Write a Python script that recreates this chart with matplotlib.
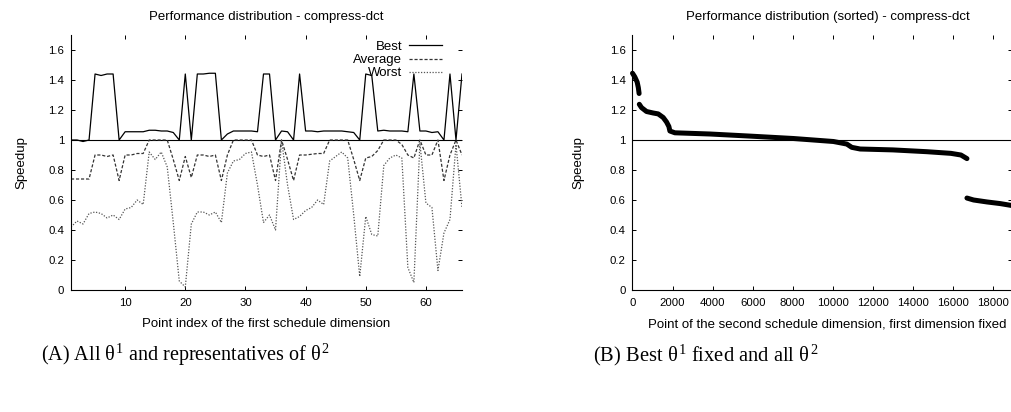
import matplotlib
matplotlib.use("Agg")
import matplotlib.pyplot as plt

plt.rcParams["font.family"] = ["Liberation Sans", "DejaVu Sans"]
plt.rcParams["mathtext.fontset"] = "custom"
plt.rcParams["mathtext.rm"] = "Liberation Serif"
plt.rcParams["mathtext.it"] = "Liberation Serif"

# -----------------------------
# Data
# -----------------------------
point_index = list(range(1, 67))

best = [1.0, 1.0, 0.99, 1.0, 1.44, 1.43, 1.44, 1.44, 1.0, 1.055,
        1.055, 1.055, 1.055, 1.065, 1.065, 1.06, 1.06, 1.05, 1.0, 1.44,
        1.0, 1.44, 1.44, 1.445, 1.445, 1.0, 1.04, 1.06, 1.06, 1.06,
        1.06, 1.055, 1.44, 1.44, 1.0, 1.06, 1.055, 1.0, 1.44, 1.06,
        1.06, 1.055, 1.06, 1.06, 1.06, 1.06, 1.055, 1.05, 1.0, 1.44,
        1.43, 1.06, 1.065, 1.06, 1.06, 1.06, 1.055, 1.44, 1.06, 1.06,
        1.05, 1.055, 1.0, 1.44, 1.0, 1.44]

average = [0.74, 0.74, 0.74, 0.74, 0.9, 0.9, 0.89, 0.9, 0.73, 0.9,
           0.9, 0.91, 0.91, 1.0, 1.0, 1.0, 1.0, 0.87, 0.73, 0.89,
           0.75, 0.9, 0.9, 0.89, 0.9, 0.73, 0.9, 1.0, 1.0, 1.0,
           1.0, 0.9, 0.89, 0.9, 0.73, 1.0, 0.87, 0.73, 0.9, 0.9,
           0.905, 0.91, 0.91, 1.0, 1.0, 1.0, 1.0, 0.87, 0.73, 0.88,
           0.89, 0.93, 1.0, 1.0, 1.0, 0.97, 0.9, 0.88, 1.0, 0.9,
           0.9, 1.0, 0.73, 0.9, 1.0, 0.9]

worst = [0.42, 0.46, 0.44, 0.51, 0.52, 0.51, 0.48, 0.5, 0.47, 0.54,
         0.55, 0.6, 0.57, 0.92, 0.87, 0.92, 0.82, 0.45, 0.06, 0.02,
         0.44, 0.52, 0.52, 0.5, 0.52, 0.45, 0.78, 0.86, 0.87, 0.91,
         0.92, 0.7, 0.45, 0.5, 0.4, 1.0, 0.7, 0.47, 0.49, 0.53,
         0.55, 0.6, 0.57, 0.86, 0.89, 0.92, 0.88, 0.5, 0.09, 0.49,
         0.37, 0.36, 0.83, 0.88, 0.9, 0.88, 0.15, 0.05, 0.98, 0.58,
         0.55, 0.13, 0.38, 0.47, 0.97, 0.55]

# sorted distribution, three pieces separated by jumps
sorted_x1 = [0, 117, 233, 290, 330]
sorted_y1 = [1.445, 1.42, 1.386, 1.35, 1.31]
sorted_x2 = [340, 450, 700, 1033, 1283, 1533, 1700, 1817, 1867, 2117,
             3867, 5867, 8033, 10033, 10700, 10950, 11367, 13000, 14700,
             15900, 16400, 16700]
sorted_y2 = [1.238, 1.216, 1.19, 1.18, 1.174, 1.15, 1.12, 1.09, 1.06, 1.048,
             1.04, 1.026, 1.01, 0.99, 0.973, 0.951, 0.94, 0.934, 0.922,
             0.911, 0.9, 0.876]
sorted_x3 = [16700, 17033, 17700, 18367, 18950]
sorted_y3 = [0.613, 0.6, 0.587, 0.576, 0.563]

y_ticks = [0, 0.2, 0.4, 0.6, 0.8, 1, 1.2, 1.4, 1.6]
y_tick_labels = ["0", "0.2", "0.4", "0.6", "0.8", "1", "1.2", "1.4", "1.6"]
left_x_ticks = [10, 20, 30, 40, 50, 60]
right_x_ticks = list(range(0, 19000, 2000))

FS_TICK = 8.2
FS = 9.5

fig = plt.figure(figsize=(10.12, 4.12), dpi=100)
ax1 = fig.add_axes([71 / 1012, 122 / 412, 391 / 1012, 255 / 412])
ax2 = fig.add_axes([632.5 / 1012, 122 / 412, 379.5 / 1012, 255 / 412])


def style(ax, ylabelpad):
    ax.spines["top"].set_visible(False)
    ax.spines["right"].set_visible(False)
    ax.spines["left"].set_linewidth(0.8)
    ax.spines["bottom"].set_linewidth(0.8)
    ax.tick_params(direction="in", top=True, right=True, length=3,
                   width=0.7, labelsize=FS_TICK)
    ax.tick_params(axis="x", pad=6)
    ax.tick_params(axis="y", pad=5)
    ax.set_ylim(0, 1.7)
    ax.set_yticks(y_ticks)
    ax.set_yticklabels(y_tick_labels)
    ax.axhline(1, color="black", lw=0.8, zorder=1)
    ax.set_ylabel("Speedup", fontsize=FS, labelpad=ylabelpad)


# -----------------------------
# (A) left chart
# -----------------------------
style(ax1, 15)
ax1.plot(point_index, best, color="black", lw=0.9, label="Best")
ax1.plot(point_index, average, color="#333333", lw=0.9, dashes=(2.5, 1.5),
         label="Average")
ax1.plot(point_index, worst, color="#555555", lw=0.9, dashes=(1, 1.3),
         label="Worst")
ax1.set_xlim(1, 66)
ax1.set_xticks(left_x_ticks)
ax1.set_title("Performance distribution - compress-dct", fontsize=FS, pad=11)
ax1.set_xlabel("Point index of the first schedule dimension", fontsize=FS,
               labelpad=7)
ax1.legend(loc="upper right", bbox_to_anchor=(0.948, 0.978), frameon=False,
           markerfirst=False, fontsize=FS, handlelength=2.5,
           handletextpad=0.5, labelspacing=0.08, borderpad=0,
           borderaxespad=0)

# -----------------------------
# (B) right chart
# -----------------------------
style(ax2, 18)
for xs, ys in [(sorted_x1, sorted_y1), (sorted_x2, sorted_y2),
               (sorted_x3, sorted_y3)]:
    ax2.plot(xs, ys, color="black", lw=3.6, solid_capstyle="round",
             solid_joinstyle="round", clip_on=False)
ax2.set_xlim(0, 18950)
ax2.set_xticks(right_x_ticks)
ax2.set_title("Performance distribution (sorted) - compress-dct", fontsize=FS,
              pad=11, x=0.514)
ax2.set_xlabel("Point of the second schedule dimension, first dimension fixed",
               fontsize=FS, labelpad=7, x=0.514)

# captions
fig.text(185 / 1012, 1 - 355 / 412,
         r"(A) All $\theta^1$ and representatives of $\theta^2$",
         family="Liberation Serif", fontsize=14.5, ha="center", va="center")
fig.text(706 / 1012, 1 - 355 / 412,
         r"(B) Best $\theta^1$ fixed and all $\theta^2$",
         family="Liberation Serif", fontsize=14.8, ha="center", va="center")

fig.savefig("out.png", dpi=100)
